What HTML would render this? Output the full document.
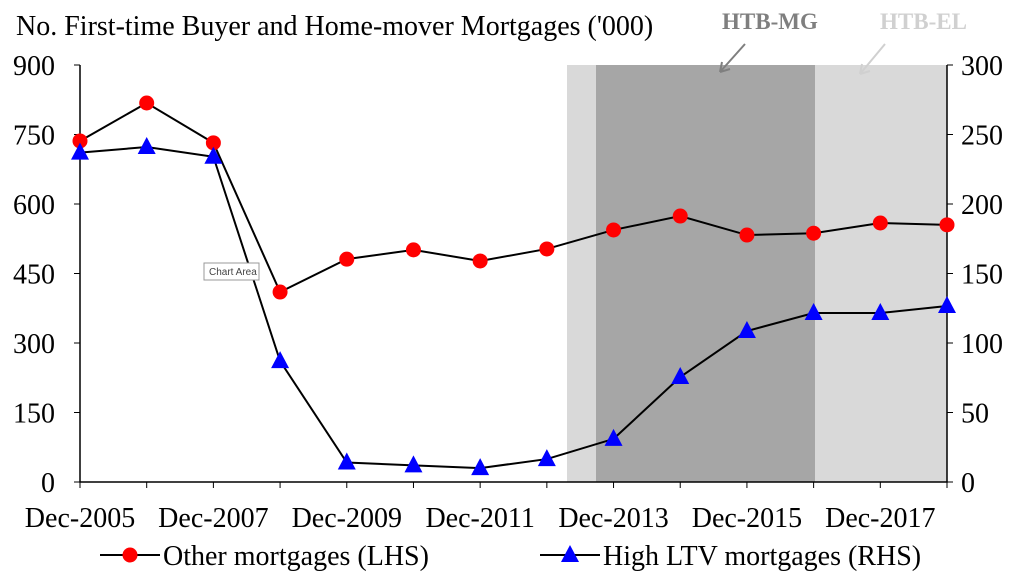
<!DOCTYPE html>
<html><head><meta charset="utf-8"><style>
body{margin:0;background:#fff}
svg text{font-family:"Liberation Serif",serif;fill:#000}
</style></head><body>
<svg id="c" width="1024" height="583" xmlns="http://www.w3.org/2000/svg">
<text x="16" y="35" font-size="28">No. First-time Buyer and Home-mover Mortgages ('000)</text>
<g id="g"></g>
</svg>
<script>
const years=[2005,2006,2007,2008,2009,2010,2011,2012,2013,2014,2015,2016,2017,2018];
const xLabels=["Dec-2005","Dec-2007","Dec-2009","Dec-2011","Dec-2013","Dec-2015","Dec-2017"];
const otherVals=[736,818,732,410,481,501,477,503,544,574,533,537,559,555];
const ltvVals=[237,241,234,87,14,12,10,16.5,31,75.5,108.6,121.6,121.6,126.6];
const leftTicks=[0,150,300,450,600,750,900];
const rightTicks=[0,50,100,150,200,250,300];
const NS="http://www.w3.org/2000/svg";
const g=document.getElementById('g');
const X0=80,X1=947,Y0=482,Y1=65;
const x=yr=>X0+(yr-2005)*(X1-X0)/13;
const yL=v=>Y0-v/900*(Y0-Y1);
const yR=v=>Y0-v/300*(Y0-Y1);
function el(t,a,txt){const e=document.createElementNS(NS,t);for(const k in a)e.setAttribute(k,a[k]);if(txt!==undefined)e.textContent=txt;g.appendChild(e);return e;}
let e;
e=el('rect',{x:567,y:Y1,width:X1-567,height:Y0-Y1,fill:'#d9d9d9'});


e=el('rect',{x:596,y:Y1,width:815-596,height:Y0-Y1,fill:'#a6a6a6'});


e=el('text',{x:722,y:29,'font-size':23,'font-weight':'bold',style:'fill:#7f7f7f'},'HTB-MG');


e=el('text',{x:880,y:29,'font-size':23,'font-weight':'bold',style:'fill:#d0d0d0'},'HTB-EL');


e=el('path',{d:'M745 44 L720 72 M720 72 L722 62 M720 72 L730 69',stroke:'#7f7f7f','stroke-width':2,fill:'none'});


e=el('path',{d:'M885 44 L860 74 M860 74 L862 64 M860 74 L870 71',stroke:'#d0d0d0','stroke-width':2,fill:'none'});


e=el('path',{d:`M${X0} ${Y1} V${Y0} H${X1} V${Y1}`,stroke:'#000','stroke-width':1.5,fill:'none'});


leftTicks.forEach(v=>{
 e=el('line',{x1:X0-6,x2:X0,y1:yL(v),y2:yL(v),stroke:'#000'});
 
 
 e=el('text',{x:X0-25,y:yL(v)+10,'font-size':28,'text-anchor':'end'},v);
 
 
});
rightTicks.forEach(v=>{
 e=el('line',{x1:X1,x2:X1+6,y1:yR(v),y2:yR(v),stroke:'#000'});
 
 
 e=el('text',{x:X1+14,y:yR(v)+10,'font-size':28},v);
 
 
});
years.forEach(yr=>{
 e=el('line',{x1:x(yr),x2:x(yr),y1:Y0,y2:Y0+6,stroke:'#000'});
 
 
});
xLabels.forEach(l=>{
 const yr=+l.split('-')[1];
 e=el('text',{x:x(yr),y:Y0+45,'font-size':28,'text-anchor':'middle'},l);
 
 
});
e=el('polyline',{points:otherVals.map((v,i)=>x(years[i])+','+yL(v)).join(' '),stroke:'#000','stroke-width':2,fill:'none'});


e=el('polyline',{points:ltvVals.map((v,i)=>x(years[i])+','+yR(v)).join(' '),stroke:'#000','stroke-width':2,fill:'none'});


otherVals.forEach((v,i)=>{
 e=el('circle',{cx:x(years[i]),cy:yL(v),r:7.5,fill:'#ff0000'});
 
 
});
ltvVals.forEach((v,i)=>{
 const cx=x(years[i]),cy=yR(v);
 e=el('path',{d:`M${cx} ${cy-10} L${cx+9} ${cy+7} L${cx-9} ${cy+7}Z`,fill:'#0000ff'});
 
 
});
e=el('rect',{x:204,y:263,width:55,height:17,fill:'#fff',stroke:'#999'});


e=el('text',{x:209,y:275,'font-size':10,style:'font-family:"Liberation Sans",sans-serif;fill:#444'},'Chart Area');


e=el('line',{x1:100,x2:160,y1:555,y2:555,stroke:'#000','stroke-width':2});


e=el('circle',{cx:130,cy:555,r:7.5,fill:'#ff0000'});


e=el('text',{x:163,y:565,'font-size':28},'Other mortgages (LHS)');


e=el('line',{x1:540,x2:600,y1:555,y2:555,stroke:'#000','stroke-width':2});


e=el('path',{d:'M570 545 L579 562 L561 562Z',fill:'#0000ff'});


e=el('text',{x:603,y:565,'font-size':28},'High LTV mortgages (RHS)');


</script>
</body></html>
